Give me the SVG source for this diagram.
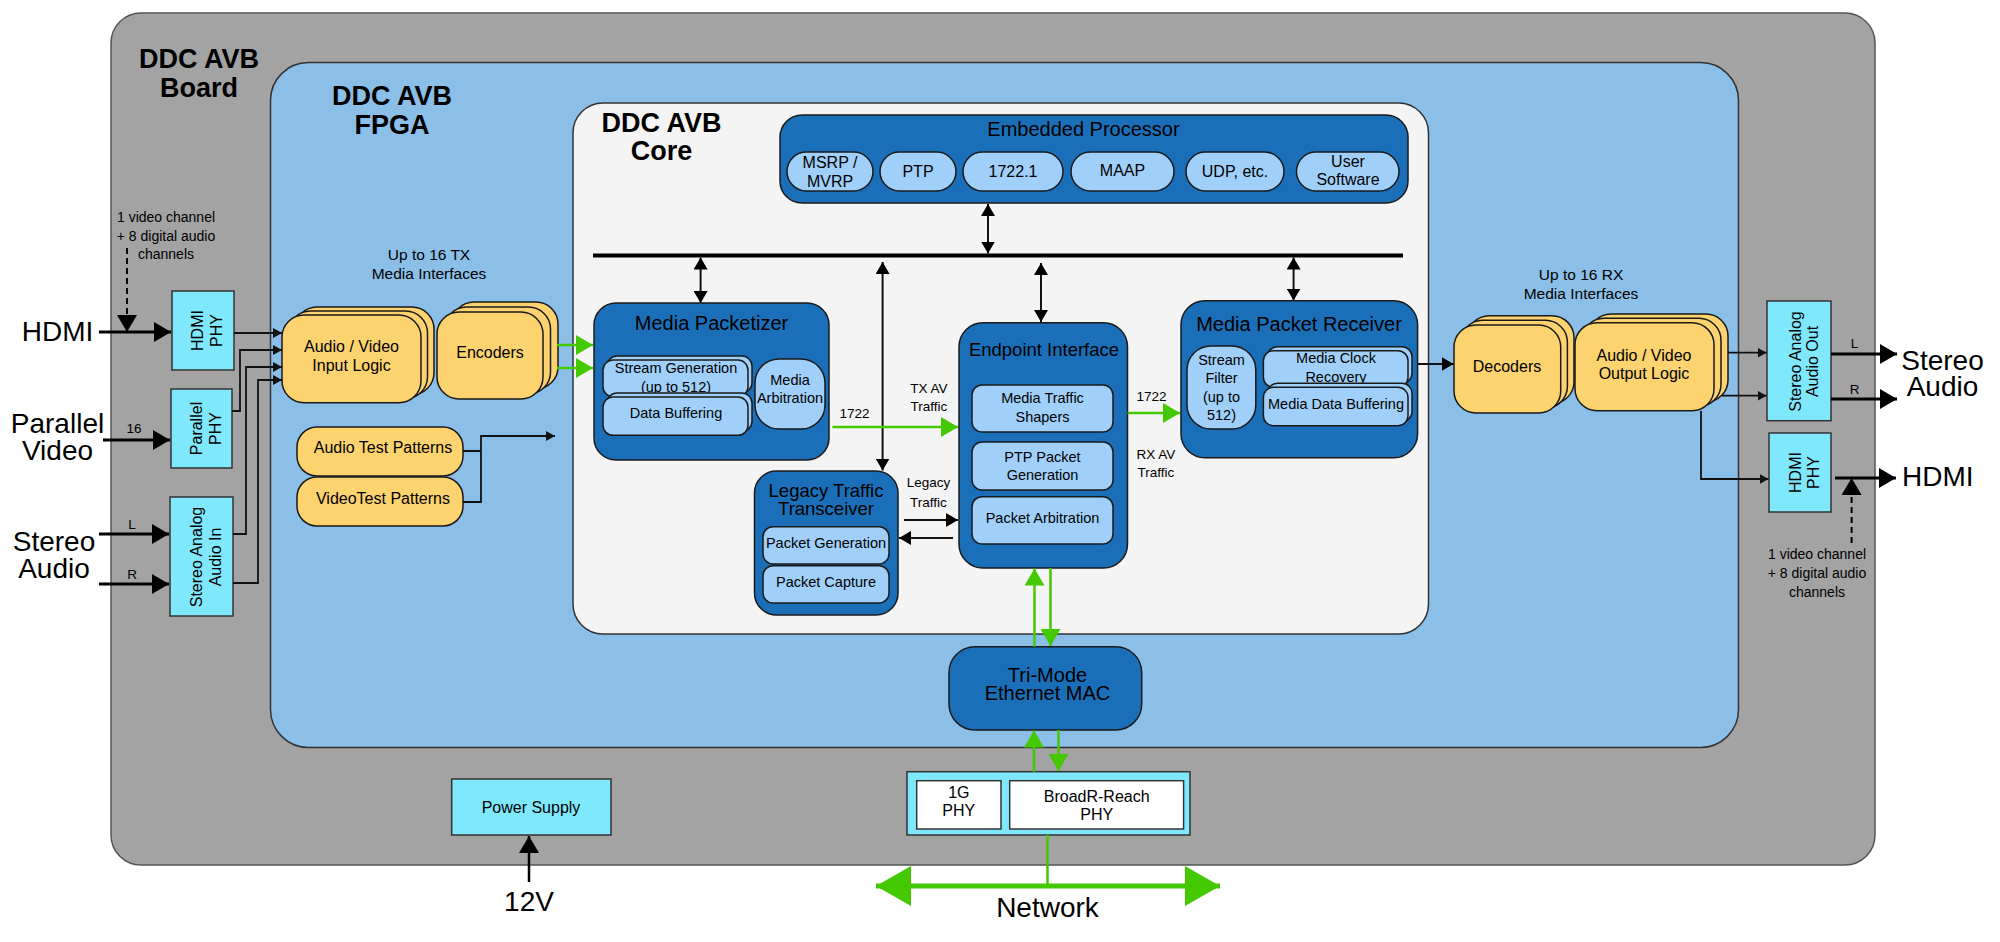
<svg xmlns="http://www.w3.org/2000/svg" width="2000" height="942" viewBox="0 0 2000 942">
<defs>
<style>
text{font-family:"Liberation Sans",Arial,Helvetica,sans-serif;fill:#000;text-anchor:middle}
.s13{font-size:13.5px}
.s14{font-size:14px}
.s145{font-size:14.5px}
.s155{font-size:15.5px}
.s16{font-size:16px}
.s185{font-size:18.5px}
.s20{font-size:20px}
.s28{font-size:28px}
.b27{font-size:27px;font-weight:bold}
.dk{fill:#1b6fb8;stroke:#1a1a1a;stroke-width:1.5}
.lt{fill:#a0d0fa;stroke:#1a1a1a;stroke-width:1.5}
.yl{fill:#fcd36f;stroke:#1a1a1a;stroke-width:1.5}
.cy{fill:#80e8fd;stroke:#333;stroke-width:1.5}
.wh{fill:#ffffff;stroke:#333;stroke-width:1.5}
.ln{fill:none;stroke:#111;stroke-width:1.8}
.lnM{fill:none;stroke:#111;stroke-width:2}
.lnL{fill:none;stroke:#000;stroke-width:3}
.gr{fill:none;stroke:#44c800;stroke-width:2.5}
.ds{fill:none;stroke:#000;stroke-width:2;stroke-dasharray:6 4}
</style>
<marker id="aS" markerWidth="10" markerHeight="10" refX="9" refY="5" orient="auto" markerUnits="userSpaceOnUse"><path d="M0,0 L9,5 L0,10 z" fill="#111"/></marker>
<marker id="aM" markerWidth="13" markerHeight="14" refX="12" refY="7" orient="auto-start-reverse" markerUnits="userSpaceOnUse"><path d="M0,0 L12,7 L0,14 z" fill="#000"/></marker>
<marker id="aL" markerWidth="18" markerHeight="20" refX="17" refY="10" orient="auto" markerUnits="userSpaceOnUse"><path d="M0,0 L17,10 L0,20 z" fill="#000"/></marker>
<marker id="aG" markerWidth="18" markerHeight="20" refX="17" refY="10" orient="auto" markerUnits="userSpaceOnUse"><path d="M0,0 L17,10 L0,20 z" fill="#44c800"/></marker>
<marker id="aN" markerWidth="36" markerHeight="40" refX="35" refY="20" orient="auto-start-reverse" markerUnits="userSpaceOnUse"><path d="M0,0 L35,20 L0,40 z" fill="#44c800"/></marker>
</defs>
<rect x="0" y="0" width="2000" height="942" fill="#ffffff"/>

<g id="board">
<rect x="111" y="13" width="1764" height="852" rx="30" fill="#a3a3a3" stroke="#555" stroke-width="1.5"/>
<text class="b27" x="199" y="68">DDC AVB</text>
<text class="b27" x="199" y="97">Board</text>
</g>
<g id="fpga">
<rect x="270.5" y="62.5" width="1468" height="685" rx="38" fill="#8bbfe7" stroke="#333" stroke-width="1.5"/>
<text class="b27" x="392" y="105">DDC AVB</text>
<text class="b27" x="392" y="134">FPGA</text>
</g>
<g id="core">
<rect x="573" y="103" width="855.5" height="531" rx="30" fill="#f4f4f4" stroke="#333" stroke-width="1.5"/>
<text class="b27" x="661.5" y="131.5">DDC AVB</text>
<text class="b27" x="661.5" y="160">Core</text>
</g>

<g id="labels">
<text class="s14"><tspan x="166" y="222">1 video channel</tspan><tspan x="166" y="240.5">+ 8 digital audio</tspan><tspan x="166" y="259">channels</tspan></text>
<text class="s14"><tspan x="1817" y="559">1 video channel</tspan><tspan x="1817" y="578">+ 8 digital audio</tspan><tspan x="1817" y="596.5">channels</tspan></text>
<text class="s155"><tspan x="429" y="259.5">Up to 16 TX</tspan><tspan x="429" y="278.5">Media Interfaces</tspan></text>
<text class="s155"><tspan x="1581" y="280">Up to 16 RX</tspan><tspan x="1581" y="299">Media Interfaces</tspan></text>
<text class="s28" x="57.5" y="340.5">HDMI</text>
<text class="s28"><tspan x="57.5" y="432.5">Parallel</tspan><tspan x="57.5" y="459.5">Video</tspan></text>
<text class="s28"><tspan x="54" y="550.5">Stereo</tspan><tspan x="54" y="577.5">Audio</tspan></text>
<text class="s28"><tspan x="1942.5" y="369.5">Stereo</tspan><tspan x="1942.5" y="396">Audio</tspan></text>
<text class="s28" x="1902" y="486" style="text-anchor:start">HDMI</text>
<text class="s28" x="1047.5" y="916.5">Network</text>
<text class="s28" x="529" y="911">12V</text>
<text class="s13" x="134" y="432.5">16</text>
<text class="s13" x="132" y="529">L</text>
<text class="s13" x="132" y="579">R</text>
<text class="s13" x="1854.5" y="348">L</text>
<text class="s13" x="1854.5" y="394">R</text>
<text class="s13"><tspan x="929" y="393">TX AV</tspan><tspan x="929" y="411">Traffic</tspan></text>
<text class="s13" x="854.5" y="417.5">1722</text>
<text class="s13" x="1151.5" y="400.5">1722</text>
<text class="s13"><tspan x="1156" y="459">RX AV</tspan><tspan x="1156" y="476.5">Traffic</tspan></text>
<text class="s13"><tspan x="928.5" y="487">Legacy</tspan><tspan x="928.5" y="507">Traffic</tspan></text>
</g>

<g id="hdmi-phy-in">
<rect class="cy" x="172" y="291" width="62" height="79"/>
<text class="s16" transform="translate(203,330.5) rotate(-90)"><tspan x="0" y="0">HDMI</tspan><tspan x="0" y="19">PHY</tspan></text>
</g>
<g id="parallel-phy">
<rect class="cy" x="171" y="389" width="61" height="79"/>
<text class="s16" transform="translate(201.5,428.5) rotate(-90)"><tspan x="0" y="0.5">Parallel</tspan><tspan x="0" y="19.5">PHY</tspan></text>
</g>
<g id="stereo-in">
<rect class="cy" x="170" y="497" width="63" height="119"/>
<text class="s16" transform="translate(201.5,557) rotate(-90)"><tspan x="0" y="0.5">Stereo Analog</tspan><tspan x="0" y="19">Audio In</tspan></text>
</g>

<g id="av-input-logic">
<rect class="yl" x="295" y="307" width="139" height="87.7" rx="22"/>
<rect class="yl" x="288.5" y="311" width="139" height="87.7" rx="22"/>
<rect class="yl" x="282" y="315" width="139" height="87.7" rx="22"/>
<text class="s16"><tspan x="351.5" y="352">Audio / Video</tspan><tspan x="351.5" y="370.5">Input Logic</tspan></text>
</g>
<g id="encoders">
<rect class="yl" x="452" y="302" width="106" height="87" rx="22"/>
<rect class="yl" x="444.5" y="307" width="106" height="87" rx="22"/>
<rect class="yl" x="437" y="312" width="106" height="87" rx="22"/>
<text class="s16" x="490" y="358">Encoders</text>
</g>
<g id="audio-test-patterns">
<rect class="yl" x="297" y="427" width="166" height="49" rx="20"/>
<text class="s16" x="383" y="453">Audio Test Patterns</text>
</g>
<g id="video-test-patterns">
<rect class="yl" x="297" y="477" width="166" height="49" rx="20"/>
<text class="s16" x="383" y="504">VideoTest Patterns</text>
</g>

<g id="embedded-processor">
<rect class="dk" x="780" y="115" width="628" height="88" rx="22"/>
<text class="s20" x="1083.5" y="136">Embedded Processor</text>
<rect class="lt" x="787" y="152" width="86" height="39" rx="19.5"/>
<text class="s16"><tspan x="830" y="168">MSRP /</tspan><tspan x="830" y="186.5">MVRP</tspan></text>
<rect class="lt" x="880" y="152" width="76" height="39" rx="19.5"/>
<text class="s16" x="918" y="177">PTP</text>
<rect class="lt" x="963" y="152" width="100" height="39" rx="19.5"/>
<text class="s16" x="1013" y="177">1722.1</text>
<rect class="lt" x="1071" y="152" width="103" height="39" rx="19.5"/>
<text class="s16" x="1122.5" y="176">MAAP</text>
<rect class="lt" x="1186" y="152" width="98" height="39" rx="19.5"/>
<text class="s16" x="1235" y="177">UDP, etc.</text>
<rect class="lt" x="1296.5" y="152" width="102.5" height="39" rx="19.5"/>
<text class="s16"><tspan x="1348" y="167">User</tspan><tspan x="1348" y="185">Software</tspan></text>
</g>

<g id="media-packetizer">
<rect class="dk" x="594" y="303" width="235" height="157" rx="22"/>
<text class="s20" x="711.5" y="330">Media Packetizer</text>
<rect class="lt" x="607" y="356" width="145" height="36.7" rx="10"/>
<rect class="lt" x="603" y="360" width="145" height="36.7" rx="10"/>
<text class="s145"><tspan x="676" y="373">Stream Generation</tspan><tspan x="676" y="391.5">(up to 512)</tspan></text>
<rect class="lt" x="607" y="393" width="145" height="38.3" rx="10"/>
<rect class="lt" x="603" y="397" width="145" height="38.3" rx="10"/>
<text class="s145" x="676" y="418">Data Buffering</text>
<rect class="lt" x="755" y="359" width="70" height="70" rx="24"/>
<text class="s145"><tspan x="790" y="385">Media</tspan><tspan x="790" y="403">Arbitration</tspan></text>
</g>

<g id="legacy-traffic-transceiver">
<rect class="dk" x="754.5" y="471" width="143.5" height="144" rx="22"/>
<text class="s185"><tspan x="826" y="496.5">Legacy Traffic</tspan><tspan x="826" y="515">Transceiver</tspan></text>
<rect class="lt" x="763" y="526.7" width="126" height="37.3" rx="10"/>
<text class="s145" x="826" y="548">Packet Generation</text>
<rect class="lt" x="763" y="565.7" width="126" height="37.3" rx="10"/>
<text class="s145" x="826" y="586.5">Packet Capture</text>
</g>

<g id="endpoint-interface">
<rect class="dk" x="959" y="322.7" width="168.5" height="245.3" rx="24"/>
<text class="s185" x="1044" y="356">Endpoint Interface</text>
<rect class="lt" x="972" y="385" width="141" height="47" rx="10"/>
<text class="s145"><tspan x="1042.5" y="402.5">Media Traffic</tspan><tspan x="1042.5" y="421.5">Shapers</tspan></text>
<rect class="lt" x="972" y="442" width="141" height="48" rx="10"/>
<text class="s145"><tspan x="1042.5" y="461.5">PTP Packet</tspan><tspan x="1042.5" y="480">Generation</tspan></text>
<rect class="lt" x="972" y="496.7" width="141" height="47.3" rx="10"/>
<text class="s145" x="1042.5" y="523">Packet Arbitration</text>
</g>

<g id="media-packet-receiver">
<rect class="dk" x="1181" y="300.7" width="236.6" height="157" rx="24"/>
<text class="s20" x="1299" y="330.5">Media Packet Receiver</text>
<rect class="lt" x="1187" y="346" width="68.8" height="83" rx="24"/>
<text class="s145"><tspan x="1221.5" y="365">Stream</tspan><tspan x="1221.5" y="383.3">Filter</tspan><tspan x="1221.5" y="401.7">(up to</tspan><tspan x="1221.5" y="420">512)</tspan></text>
<rect class="lt" x="1267.4" y="346.7" width="144.6" height="36.6" rx="10"/>
<rect class="lt" x="1263.4" y="350.7" width="144.6" height="36.6" rx="10"/>
<text class="s145"><tspan x="1336" y="363.3">Media Clock</tspan><tspan x="1336" y="381.7">Recovery</tspan></text>
<rect class="lt" x="1267.4" y="383.3" width="144.6" height="38.4" rx="10"/>
<rect class="lt" x="1263.4" y="387.3" width="144.6" height="38.4" rx="10"/>
<text class="s145" x="1336" y="409.3">Media Data Buffering</text>
</g>

<g id="decoders">
<rect class="yl" x="1467.3" y="315.7" width="106.7" height="88" rx="22"/>
<rect class="yl" x="1460.7" y="320.3" width="106.7" height="88" rx="22"/>
<rect class="yl" x="1454" y="325" width="106.7" height="88" rx="22"/>
<text class="s16" x="1507" y="372">Decoders</text>
</g>
<g id="av-output-logic">
<rect class="yl" x="1589" y="314" width="139" height="88" rx="22"/>
<rect class="yl" x="1582" y="318.3" width="139" height="88" rx="22"/>
<rect class="yl" x="1575" y="322.7" width="139" height="88" rx="22"/>
<text class="s16"><tspan x="1644" y="361">Audio / Video</tspan><tspan x="1644" y="379">Output Logic</tspan></text>
</g>
<g id="stereo-out">
<rect class="cy" x="1767" y="301" width="64" height="119.7"/>
<text class="s16" transform="translate(1799,361.5) rotate(-90)"><tspan x="0" y="2">Stereo Analog</tspan><tspan x="0" y="19">Audio Out</tspan></text>
</g>
<g id="hdmi-phy-out">
<rect class="cy" x="1769" y="433" width="62" height="79"/>
<text class="s16" transform="translate(1800,472.5) rotate(-90)"><tspan x="0" y="1">HDMI</tspan><tspan x="0" y="19">PHY</tspan></text>
</g>

<g id="tri-mode-mac">
<rect class="dk" x="949" y="646.7" width="192.7" height="83.3" rx="26"/>
<text class="s20"><tspan x="1047.5" y="681.5">Tri-Mode</tspan><tspan x="1047.5" y="700">Ethernet MAC</tspan></text>
</g>
<g id="phy">
<rect class="cy" x="907" y="771.7" width="283" height="63.3"/>
<rect class="wh" x="916.7" y="780.7" width="84.3" height="48.3"/>
<text class="s16"><tspan x="958.8" y="798">1G</tspan><tspan x="958.8" y="816">PHY</tspan></text>
<rect class="wh" x="1009.7" y="780.7" width="173.9" height="48.3"/>
<text class="s16"><tspan x="1096.7" y="801.5">BroadR-Reach</tspan><tspan x="1096.7" y="820">PHY</tspan></text>
</g>
<g id="power-supply">
<rect class="cy" x="451.7" y="779" width="159.3" height="56"/>
<text class="s16" x="531" y="813">Power Supply</text>
</g>

<g id="connectors">
<path class="ds" d="M127,248 V320"/>
<path class="lnL" d="M127,314 V332" marker-end="url(#aL)" style="stroke-width:0"/>
<path class="lnL" d="M99,332 H171" marker-end="url(#aL)"/>
<path class="lnL" d="M103,440 H170" marker-end="url(#aL)"/>
<path class="lnL" d="M99,534 H169" marker-end="url(#aL)"/>
<path class="lnL" d="M99,584 H169" marker-end="url(#aL)"/>
<path class="ln" d="M234,333 H282" marker-end="url(#aS)"/>
<path class="ln" d="M232,411 H240 V350 H282" marker-end="url(#aS)"/>
<path class="ln" d="M233,534 H246 V367 H282" marker-end="url(#aS)"/>
<path class="ln" d="M233,583 H258 V380 H282" marker-end="url(#aS)"/>
<path class="gr" d="M557,345 H593" marker-end="url(#aG)"/>
<path class="gr" d="M557,368 H593" marker-end="url(#aG)"/>
<path class="ln" d="M463,451 H481 M463,502 H481 V436 H555" marker-end="url(#aS)"/>
<line x1="593" y1="255.5" x2="1403" y2="255.5" stroke="#000" stroke-width="4"/>
<path class="lnM" d="M988,204 V253.5" marker-start="url(#aM)" marker-end="url(#aM)"/>
<path class="lnM" d="M700.6,257.5 V303" marker-start="url(#aM)" marker-end="url(#aM)"/>
<path class="lnM" d="M882.6,262 V470.5" marker-start="url(#aM)" marker-end="url(#aM)"/>
<path class="lnM" d="M1041,263 V322" marker-start="url(#aM)" marker-end="url(#aM)"/>
<path class="lnM" d="M1293.6,257.5 V300.5" marker-start="url(#aM)" marker-end="url(#aM)"/>
<path class="gr" d="M832.5,427 H958" marker-end="url(#aG)"/>
<path class="gr" d="M1127.5,413 H1180" marker-end="url(#aG)"/>
<path class="lnM" d="M904,520 H958" marker-end="url(#aM)"/>
<path class="lnM" d="M953,538 H899" marker-end="url(#aM)"/>
<path class="lnM" d="M1417.5,364 H1453.5" marker-end="url(#aM)"/>
<path class="gr" d="M1034.5,646.7 V568.5" marker-end="url(#aG)"/>
<path class="gr" d="M1050.5,568 V646" marker-end="url(#aG)"/>
<path class="gr" d="M1034,771.7 V730.5" marker-end="url(#aG)"/>
<path class="gr" d="M1058.5,730 V771" marker-end="url(#aG)"/>
<path class="gr" d="M1047.5,835 V886"/>
<path class="gr" d="M876,886 H1220" style="stroke-width:5" marker-start="url(#aN)" marker-end="url(#aN)"/>
<path class="lnL" d="M529,882 V836" style="stroke-width:2.5" marker-end="url(#aL)"/>
<path class="ln" d="M1728,352.7 H1766.5" marker-end="url(#aS)"/>
<path class="ln" d="M1722,395.7 H1766.5" marker-end="url(#aS)"/>
<path class="ln" d="M1701,410.7 V479 H1768.5" marker-end="url(#aS)"/>
<path class="lnL" d="M1831,354 H1897" marker-end="url(#aL)"/>
<path class="lnL" d="M1831,399 H1897" marker-end="url(#aL)"/>
<path class="lnL" d="M1835,478 H1896" marker-end="url(#aL)"/>
<path class="ds" d="M1851.6,543 V490"/>
<path class="lnL" d="M1851.6,496 V478" marker-end="url(#aL)" style="stroke-width:0"/>
</g>
</svg>
